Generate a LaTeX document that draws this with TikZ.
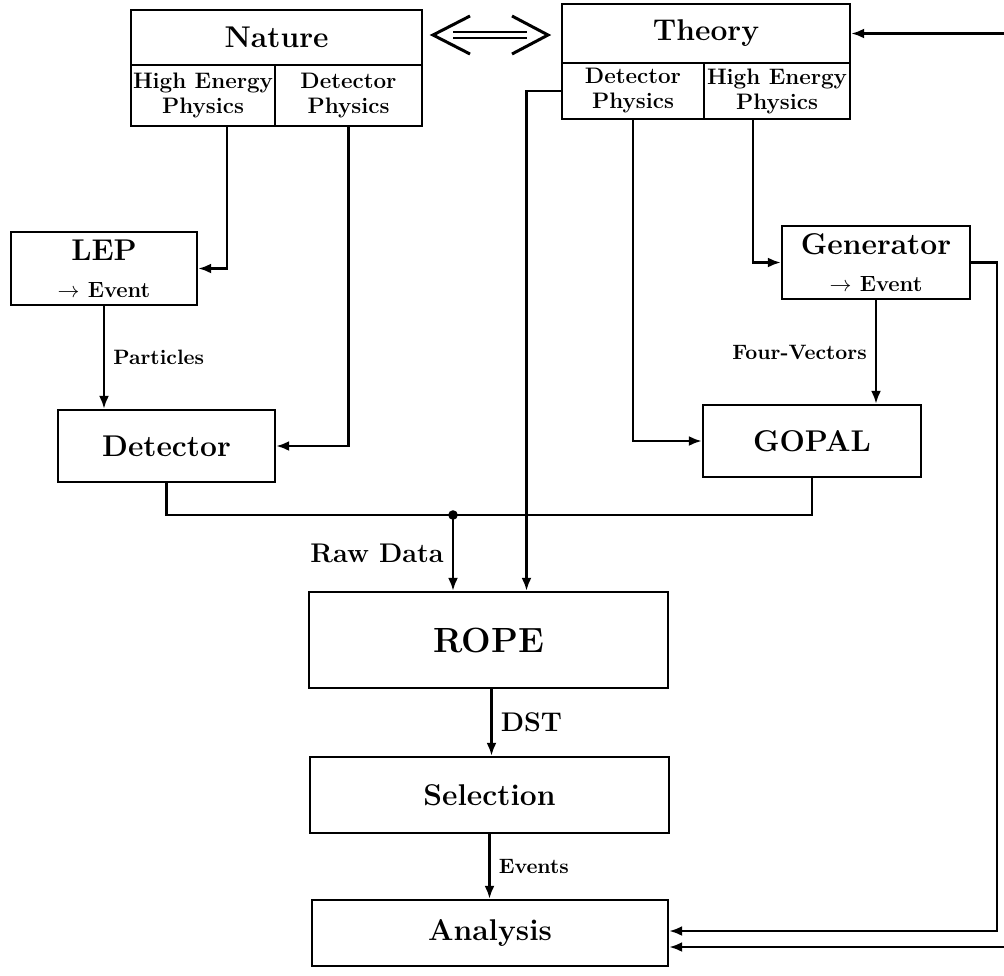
\documentclass[tikz,border=0pt]{standalone}
\usepackage{fontspec}
\usetikzlibrary{arrows.meta,calc}
\begin{document}
\begin{tikzpicture}[x=0.5pt,y=-0.5pt,
  box/.style={draw,line width=1.15pt,inner sep=0pt,align=center,font=\bfseries\fontsize{15}{17.5}\selectfont},
  sub/.style={box,font=\bfseries\fontsize{11.2}{12.5}\selectfont},
  conn/.style={line width=1.3pt,-{Latex[length=6.5pt,width=5pt]}},
  plainline/.style={line width=1.3pt},
  lbl/.style={font=\bfseries\fontsize{10.4}{12}\selectfont,inner sep=4pt},
  lblbig/.style={font=\bfseries\fontsize{13.5}{15}\selectfont,inner sep=4pt}]
\useasboundingbox (0,0) rectangle (1004,975);

% Nature
\node[box, minimum width=145.5pt, minimum height=27.5pt] (natTop) at (276.5,37.5) {Nature};
\node[sub, minimum width=72pt, minimum height=30.5pt] (natHEP) at (203,95.5) {High Energy\\Physics};
\node[sub, minimum width=73.5pt, minimum height=30.5pt] (natDP) at (348.5,95.5) {Detector\\Physics};

% Theory
\node[box, minimum width=144pt, minimum height=29.5pt] (thTop) at (706,33.5) {Theory};
\node[sub, minimum width=71pt, minimum height=28pt] (thDP) at (633,91) {Detector\\Physics};
\node[sub, minimum width=73pt, minimum height=28pt] (thHEP) at (777,91) {High Energy\\Physics};

% double arrow
\draw[line width=1.5pt] (470,16) -- (433,35) -- (470,54);
\draw[line width=1.5pt] (512,16) -- (548,35) -- (512,54);
\draw[line width=0.9pt] (453,32) -- (527,32) (453,38) -- (527,38);

% boxes
\node[box, minimum width=93pt, minimum height=36.5pt] (LEP) at (104,268.5) {LEP\\[1pt]{\fontsize{11}{13}\selectfont$\rightarrow$ Event}};
\node[box, minimum width=94pt, minimum height=36.5pt] (Gen) at (876,262.5) {Generator\\[1pt]{\fontsize{11}{13}\selectfont$\rightarrow$ Event}};
\node[box, minimum width=108.5pt, minimum height=36pt] (Det) at (166.5,446) {Detector};
\node[box, minimum width=109pt, minimum height=36pt] (GOPAL) at (812,441) {GOPAL};
\node[box, minimum width=179.5pt, minimum height=48pt, font=\bfseries\fontsize{17.5}{20}\selectfont] (ROPE) at (488.5,640) {ROPE};
\node[box, minimum width=179.5pt, minimum height=38pt] (Sel) at (489.5,795) {Selection};
\node[box, minimum width=178pt, minimum height=33pt] (Ana) at (490,933) {Analysis};

% coordinates
\coordinate (junc) at (453,515);
\coordinate (gr) at (997,262.5);
\coordinate (tr) at (1004,33.5);
\coordinate (ar) at (1004,947);

% connectors
\draw[conn] ([xshift=12pt]natHEP.south) |- (LEP.east);
\draw[conn] (natDP.south) |- (Det.east);
\draw[conn] (LEP.south) -- (LEP.south |- Det.north) node[midway,right,lbl] {Particles};
\draw[plainline] (Det.south) |- (junc) -| (GOPAL.south);
\fill (junc) circle (2.4pt);
\draw[conn] (junc) -- (junc |- ROPE.north) node[midway,left,lblbig] {Raw Data};
\draw[conn] (thDP.west) -| ([xshift=19pt]ROPE.north);
\draw[conn] (thDP.south) |- (GOPAL.west);
\draw[conn] ([xshift=-12pt]thHEP.south) |- (Gen.west);
\draw[conn] (Gen.south) -- (Gen.south |- GOPAL.north) node[midway,left,lbl] {Four-Vectors};
\draw[conn] (Gen.east) -- (gr) |- ([yshift=1pt]Ana.east);
\draw[conn] (tr) -- (thTop.east);
\draw[conn] (ar) -- (ar -| Ana.east);
\draw[conn] ([xshift=1.5pt]ROPE.south) -- ([xshift=1.5pt]ROPE.south |- Sel.north) node[midway,right,lblbig] {DST};
\draw[conn] (Sel.south) -- (Sel.south |- Ana.north) node[midway,right,lbl] {Events};
\end{tikzpicture}
\end{document}
